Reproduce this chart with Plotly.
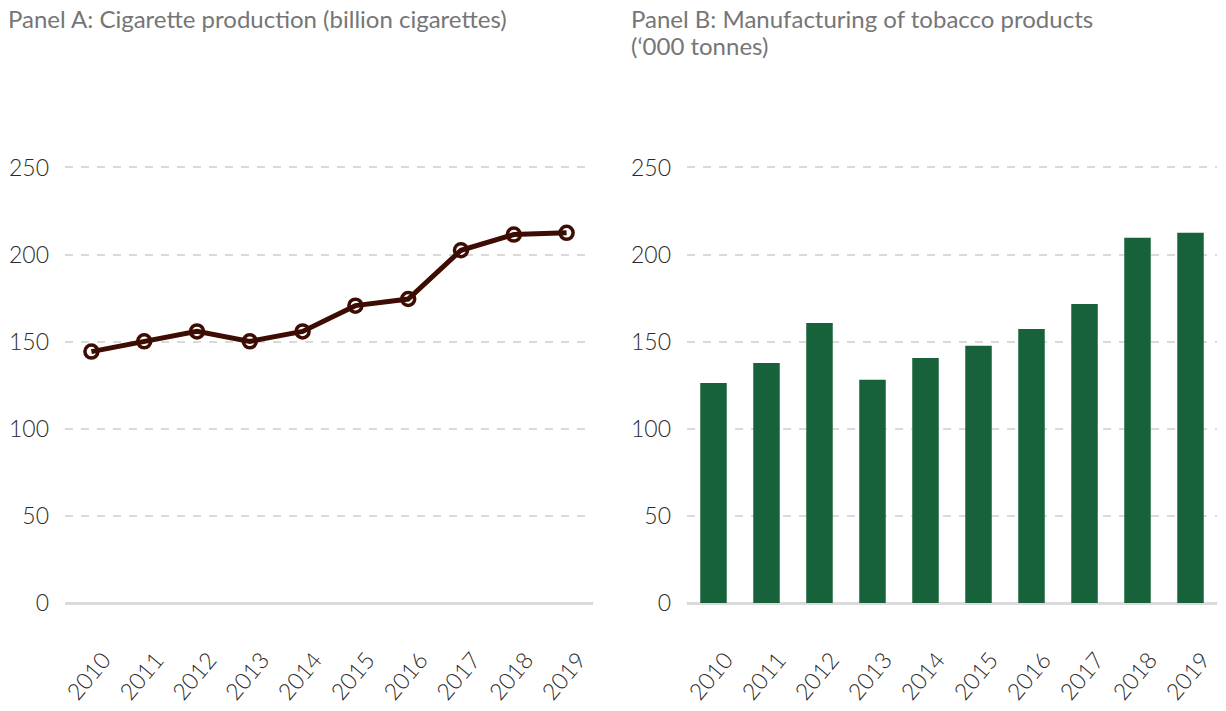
import plotly.graph_objects as go

years = ["2010", "2011", "2012", "2013", "2014", "2015", "2016", "2017", "2018", "2019"]
cigarettes_bn = [144.3, 150.2, 155.9, 150.2, 155.9, 170.7, 174.5, 202.5, 211.5, 212.5]
tobacco_kt = [126.3, 137.8, 160.7, 128.2, 140.6, 147.7, 157.3, 171.7, 209.6, 212.5]
y_ticks = [0, 50, 100, 150, 200, 250]

title_a = "Panel A: Cigarette production (billion cigarettes)"
title_b1 = "Panel B: Manufacturing of tobacco products"
title_b2 = "(\u2018000 tonnes)"

W, H = 1226, 711
top_px, bot_px = 164, 603
line_col = "#3d0c02"
bar_col = "#17623a"
grid_col = "#dadada"
tick_font = dict(family="Lato", size=23, color="#2b2b2b", weight=300)
title_font = dict(family="Lato", size=24, color="#767676")

fig = go.Figure()
fig.add_trace(go.Scatter(
    x=years, y=cigarettes_bn, mode="lines+markers",
    line=dict(color=line_col, width=5),
    marker=dict(symbol="circle-open", size=13, line=dict(color=line_col, width=3.5)),
    xaxis="x", yaxis="y", showlegend=False,
))
fig.add_trace(go.Bar(
    x=years, y=tobacco_kt, marker=dict(color=bar_col, line=dict(width=0)),
    xaxis="x2", yaxis="y2", showlegend=False,
))

def xax(domain):
    return dict(
        domain=domain, type="category", range=[-0.5, 9.5], showgrid=False,
        zeroline=False, showline=False, ticks="", tickangle=-50,
        tickfont=tick_font, ticklabelstandoff=38, ticklabelshift=12,
        automargin=False,
    )

def yax(anchor):
    return dict(
        anchor=anchor, range=[0, 252], tickvals=y_ticks, showgrid=True,
        gridcolor=grid_col, gridwidth=2, griddash="8px,8px",
        zeroline=True, zerolinecolor=grid_col, zerolinewidth=2.5,
        showline=False, ticks="", tickfont=tick_font, ticklabelstandoff=15,
        domain=[0, 1], automargin=False,
    )

def py(p):
    return (bot_px - p) / (bot_px - top_px)

def title(text, x, y):
    return dict(text=text, xref="paper", yref="paper", x=x / W, y=py(y),
                xanchor="left", yanchor="top", showarrow=False, align="left",
                font=title_font)

fig.update_layout(
    width=W, height=H,
    margin=dict(l=0, r=0, t=top_px, b=H - bot_px, autoexpand=False),
    paper_bgcolor="white", plot_bgcolor="white",
    xaxis=dict(**xax([65 / W, 593 / W]), anchor="y"),
    yaxis=yax("x"),
    xaxis2=dict(**xax([687 / W, 1217 / W]), anchor="y2"),
    yaxis2=yax("x2"),
    bargap=0.5,
    annotations=[
        title(title_a, 6, 2),
        title(title_b1, 629, 2),
        title(title_b2, 629, 29),
    ],
)

fig.write_html("out.html", config={"displayModeBar": False},
               post_script="document.body.style.margin='0';")
